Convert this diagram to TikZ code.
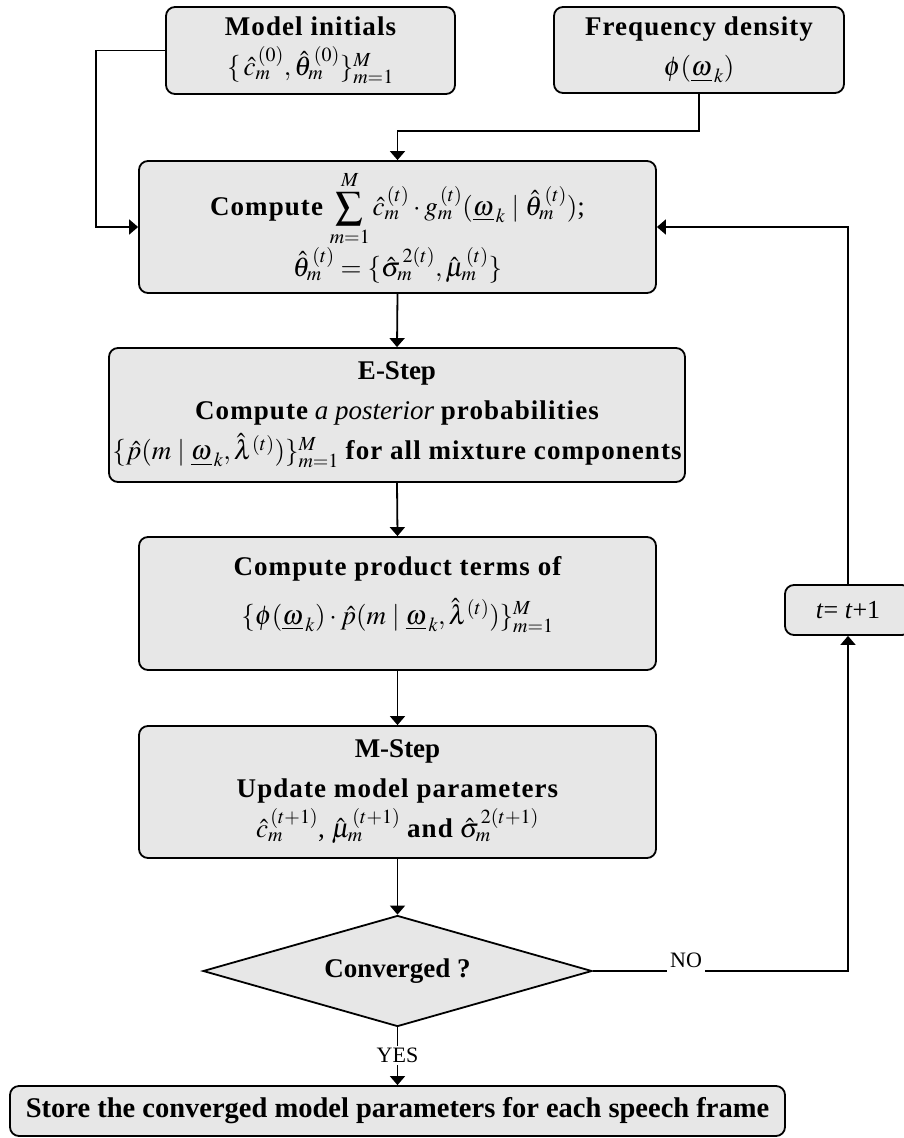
\documentclass[tikz,border=0pt]{standalone}
\usepackage{mathptmx}
\usepackage{fontspec}
\setmainfont{Liberation Serif}
\newfontfamily\spacedfont[LetterSpace=4]{Liberation Serif}
\usetikzlibrary{shapes.geometric,arrows.meta}
\definecolor{boxgray}{RGB}{231,231,231}
\newcommand{\hd}[1]{{\spacedfont\bfseries #1}}

\tikzset{
  box/.style={draw, line width=1.8pt, rounded corners=9pt, fill=boxgray,
    align=center, inner sep=0pt, font=\fontsize{27}{40}\selectfont},
  conn/.style={line width=1.8pt},
  arr/.style={conn, -{Triangle[width=15pt,length=9pt]}},
  lab/.style={fill=white, font=\fontsize{22}{24}\selectfont, inner xsep=3pt, inner ysep=2pt},
}

\begin{document}
\begin{tikzpicture}[x=1pt, y=-1pt]
\useasboundingbox (0,0) rectangle (904,1138);

% inputs
\node[box, minimum width=289pt, minimum height=87pt] (model) at (310.5,50.5)
  {\hd{Model initials}\\ $\{\,\hat c_m^{\,(0)},\hat\theta_m^{\,(0)}\}_{m=1}^{M}$};
\node[box, minimum width=290pt, minimum height=86pt] (freq) at (699,50)
  {\hd{Frequency density}\\ $\phi(\underline{\omega}_{\,k})$};

% main column
\node[box, minimum width=517pt, minimum height=132pt] (comp) at (397.5,227)
  {\hd{Compute} $\displaystyle\sum_{m=1}^{M}\hat c_m^{\,(t)}\cdot g_m^{\,(t)}(\underline{\omega}_{\,k}\mid\hat\theta_m^{\,(t)})$;\\
   $\hat\theta_m^{\,(t)}=\{\hat\sigma_m^{\,2(t)},\hat\mu_m^{\,(t)}\}$};
\node[box, minimum width=576pt, minimum height=134pt] (estep) at (397,415)
  {\textbf{E-Step}\\ \hd{Compute} \textit{a posterior} \hd{probabilities}\\
   $\{\hat p(m\mid\underline{\omega}_{\,k},\hat\lambda^{(t)})\}_{m=1}^{M}$ \hd{for all mixture components}};
\node[box, minimum width=517pt, minimum height=133pt] (prod) at (397.5,603.5)
  {\hd{Compute product terms of}\\[9pt]
   $\{\phi(\underline{\omega}_{\,k})\cdot\hat p(m\mid\underline{\omega}_{\,k},\hat\lambda^{(t)})\}_{m=1}^{M}$\\[-14pt]\mbox{}};
\node[box, minimum width=517pt, minimum height=132pt] (mstep) at (397.5,792)
  {\textbf{M-Step}\\ \hd{Update model parameters}\\
   $\hat c_m^{\,(t+1)}$, $\hat\mu_m^{\,(t+1)}$ \hd{and} $\hat\sigma_m^{\,2(t+1)}$};
\node[diamond, aspect=3.5, draw, line width=1.8pt, fill=boxgray, minimum width=389pt,
  minimum height=111pt, inner sep=0pt, font=\fontsize{27}{32}\selectfont] (conv) at (397.5,971)
  {\textbf{Converged ?}};
\node[box, minimum width=126pt, minimum height=50pt, font=\fontsize{26}{30}\selectfont] (iter) at (848,610)
  {\textit{t}= \textit{t}+1};
\node[box, minimum width=775pt, minimum height=50pt, font=\fontsize{28.5}{32}\selectfont] (store) at (397.5,1111)
  {\textbf{Store the converged model parameters for each speech frame}};

% connectors
\draw[arr] (model.west) -- ++(-69,0) |- (comp.west);
\draw[arr] (freq.south) -- ++(0,37) -| (comp.north);
\draw[arr] (comp.south) -- (estep.north);
\draw[arr] (estep.south) -- (prod.north);
\draw[arr] (prod.south) -- (mstep.north);
\draw[arr] (mstep.south) -- (conv.north);
\draw[arr] (conv.south) -- node[lab, pos=0.48] {YES} (store.north);
\draw[arr] (conv.east) -| (iter.south);
\draw[arr] (iter.north) |- (comp.east);
\node[lab, anchor=base, inner ysep=0pt, text depth=6pt] (no) at (686,967) {NO};
\end{tikzpicture}
\end{document}
